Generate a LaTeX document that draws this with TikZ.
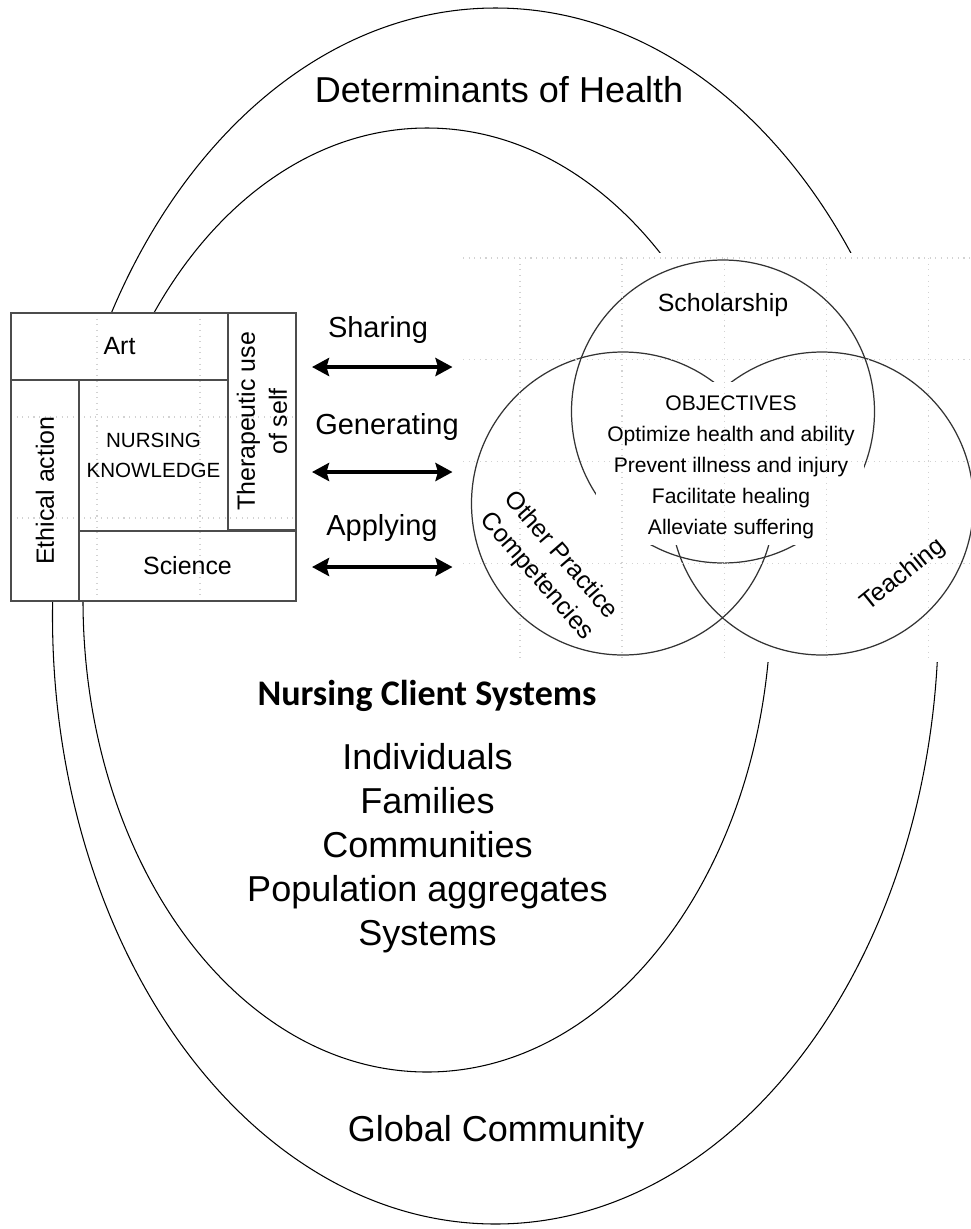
\documentclass[tikz,border=0pt]{standalone}
\usepackage{fontspec}
\setmainfont{Liberation Sans}
\newfontfamily\calibri{Carlito}
\usetikzlibrary{arrows.meta}

\tikzset{
  ring/.style={draw=black, line width=0.6pt},
  cell/.style={draw=black!70, line width=0.7pt, inner sep=0pt, align=center, font=\fontsize{14.2}{18.2}\selectfont},
  gridline/.style={draw=gray!35, line width=0.6pt, dash pattern=on 0.6pt off 2.6pt},
  venn/.style={draw=black!80, line width=0.7pt},
  biarrow/.style={{Stealth[length=0.34cm, width=0.36cm, inset=0.05cm]}-{Stealth[length=0.34cm, width=0.36cm, inset=0.05cm]}, line width=2.2pt},
  flowlabel/.style={font=\fontsize{16.5}{20}\selectfont},
  biglabel/.style={font=\fontsize{20.5}{25}\selectfont, align=center},
  venntext/.style={font=\fontsize{14.2}{18.2}\selectfont, align=center},
}

\begin{document}
\begin{tikzpicture}
  \useasboundingbox (0,0) rectangle (19.42,-24.58);

  % Determinants of health and client systems
  \draw[ring] (9.91,-12.32) ellipse [x radius=8.86, y radius=12.16];
  \draw[ring] (8.54,-12.0) ellipse [x radius=6.88, y radius=9.44];
  \fill[white] (0.22,-6.26) rectangle (5.92,-12.02);
  \fill[white] (9.26,-5.06) rectangle (19.42,-13.24);

  \node[biglabel] (determ) at (9.98,-1.8) {Determinants of Health};
  \node[biglabel, font=\calibri\bfseries\fontsize{20.5}{25}\selectfont] (ncs) at (8.54,-13.92) {Nursing Client Systems};
  \node[biglabel] (clients) at (8.55,-16.96) {Individuals\\Families\\Communities\\Population aggregates\\Systems};
  \node[biglabel] (global) at (9.92,-22.64) {Global Community};

  % Practice competencies
  \draw[venn] (14.46,-8.23) circle [radius=3.03];
  \draw[venn] (12.46,-10.07) circle [radius=3.03];
  \draw[venn] (16.44,-10.07) circle [radius=3.03];
  \node[fill=white, minimum width=5.36cm, minimum height=3.26cm] (objbox) at (14.6,-9.27) {};

  % grid dots
  \foreach \gx in {10.4,12.44,14.49,16.53,18.57}
    \draw[gridline] (\gx,-5.16) -- (\gx,-13.16);
  \foreach \gy in {-5.16,-7.19,-9.23,-11.27}
    \draw[gridline] (9.26,\gy) -- (19.42,\gy);
  \foreach \gx in {1.94,4.0}
    \draw[gridline] (\gx,-6.26) -- (\gx,-12.02);
  \foreach \gy in {-8.34,-10.36}
    \draw[gridline] (0.22,\gy) -- (5.92,\gy);

  \node[font=\fontsize{12}{17.6}\selectfont, align=center] (objectives) at (14.62,-9.34) {OBJECTIVES\\Optimize health and ability\\Prevent illness and injury\\Facilitate healing\\Alleviate suffering};
  \node[venntext] (scholar) at (14.46,-6.1) {Scholarship};
  \node[venntext, rotate=-49] (otherpc) at (10.97,-11.32) {Other Practice\\Competencies};
  \node[venntext, rotate=39] (teach) at (18.06,-11.5) {Teaching};

  % Nursing knowledge box
  \node[cell, minimum width=4.34cm, minimum height=1.34cm] (art) at (2.39,-6.93) {Art};
  \node[cell, rotate=90, minimum width=4.34cm, minimum height=1.36cm] (therap) at (5.24,-8.43) {Therapeutic use\\of self};
  \node[cell, rotate=90, minimum width=4.42cm, minimum height=1.36cm] (ethic) at (0.9,-9.81) {Ethical action};
  \node[cell, minimum width=4.34cm, minimum height=1.40cm] (science) at (3.75,-11.32) {Science};
  \node[cell, minimum width=2.98cm, minimum height=3.02cm, font=\fontsize{11.7}{17}\selectfont] (know) at (3.07,-9.11) {NURSING\\KNOWLEDGE};

  % Sharing, generating, applying
  \coordinate (share-l) at (6.24,-7.34);
  \coordinate (share-r) at (9.05,-7.34);
  \coordinate (gen-l) at (6.24,-9.44);
  \coordinate (gen-r) at (9.05,-9.44);
  \coordinate (apply-l) at (6.24,-11.34);
  \coordinate (apply-r) at (9.05,-11.34);
  \draw[biarrow] (share-l) -- (share-r);
  \draw[biarrow] (gen-l) -- (gen-r);
  \draw[biarrow] (apply-l) -- (apply-r);
  \node[flowlabel] (sharing) at (7.56,-6.6) {Sharing};
  \node[flowlabel] (generating) at (7.74,-8.54) {Generating};
  \node[flowlabel] (applying) at (7.64,-10.56) {Applying};
\end{tikzpicture}
\end{document}
